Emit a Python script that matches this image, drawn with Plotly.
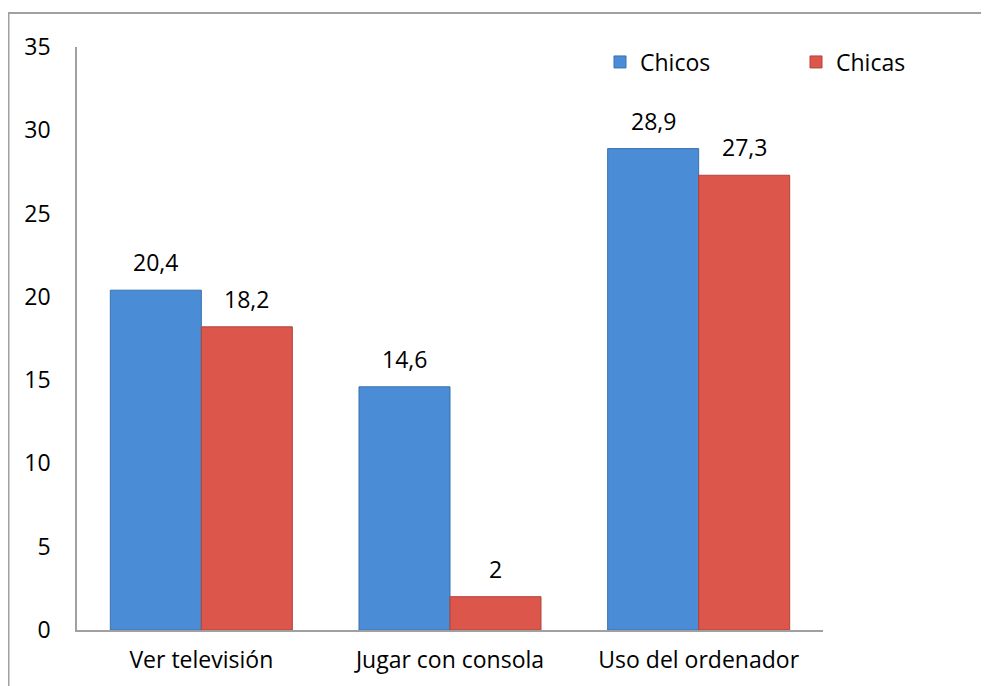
import plotly.graph_objects as go

categorias = ["Ver televisión", "Jugar con consola", "Uso del ordenador"]
chicos = [20.4, 14.6, 28.9]
chicas = [18.2, 2, 27.3]
ticks_y = [0, 5, 10, 15, 20, 25, 30, 35]

FONT = "Open Sans, sans-serif"
FS = 23
# la página añade 8 px de margen al body, se compensa aquí
W, H = 989, 678
L, R, T, B = 69, 174, 39, 56
BARGAP = 0.268

fig = go.Figure()
fig.add_trace(go.Bar(x=categorias, y=chicos, name="Chicos", legend="legend",
                     marker=dict(color="#4a8dd6", line=dict(color="#3a70ab", width=1))))
fig.add_trace(go.Bar(x=categorias, y=chicas, name="Chicas", legend="legend2",
                     marker=dict(color="#dc564c", line=dict(color="#b0443c", width=1))))

# etiquetas de datos encima de cada barra
pw, ph = W - L - R, H - T - B
cat_px = pw / len(categorias)
bar_px = cat_px * (1 - BARGAP) / 2
for serie, shift in ((chicos, -bar_px / 2), (chicas, bar_px / 2)):
    for c, v in zip(categorias, serie):
        fig.add_annotation(x=c, y=v, text=f"{v:g}".replace(".", ","),
                           showarrow=False, xshift=shift, yshift=28,
                           font=dict(family=FONT, size=FS, color="black"))

# marco exterior del gráfico
fig.add_shape(type="rect", xref="paper", yref="paper",
              x0=(0.5 - L) / pw, x1=(W + 20 - L) / pw,
              y0=-(H + 10 - (H - B)) / ph, y1=((H - B) - 5) / ph,
              line=dict(color="#a0a0a0", width=2), fillcolor="rgba(0,0,0,0)")

leg = dict(orientation="h", xanchor="left", yanchor="middle",
           y=((H - B) - 54) / ph, font=dict(family=FONT, size=FS),
           bgcolor="rgba(0,0,0,0)")

fig.update_layout(
    width=W, height=H,
    margin=dict(l=L, r=R, t=T, b=B),
    paper_bgcolor="white", plot_bgcolor="white",
    barmode="group", bargap=BARGAP, bargroupgap=0,
    separators=",.",
    font=dict(family=FONT, size=FS, color="black"),
    legend=dict(leg, x=(592 - L) / pw),
    legend2=dict(leg, x=(788 - L) / pw),
    showlegend=True,
)
fig.update_xaxes(showline=True, linecolor="#a0a0a0", linewidth=1.5,
                 showgrid=False, ticks="", ticklabelstandoff=9,
                 tickfont=dict(family=FONT, size=FS))
fig.update_yaxes(range=[0, 35], tickvals=ticks_y, showline=True,
                 linecolor="#a0a0a0", linewidth=1.5, showgrid=False,
                 zeroline=False, ticks="", ticklabelstandoff=20,
                 tickfont=dict(family=FONT, size=FS))

fig.write_html("out.html")
